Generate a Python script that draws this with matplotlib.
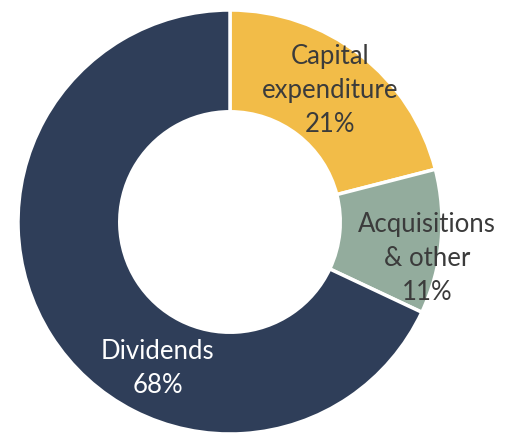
import matplotlib.pyplot as plt

labels = ['Capital\nexpenditure\n21%', 'Acquisitions\n& other\n11%', 'Dividends\n68%']
shares = [21, 11, 68]
colours = ['#F2BC48', '#93AC9D', '#2F3E59']
text_colours = ['#3B3B3B', '#3B3B3B', 'white']
# label centres in data units (pie radius = 1)
label_xy = [(0.47, 0.62), (0.93, -0.17), (-0.34, -0.69)]

plt.rcParams['font.family'] = ['Lato', 'DejaVu Sans']

fig = plt.figure(figsize=(5.12, 4.34), dpi=100)
ax = fig.add_axes([0, 0, 1, 1])
ax.pie(shares, colors=colours, startangle=90, counterclock=False,
       radius=1.0, wedgeprops=dict(width=0.48, edgecolor='white', linewidth=2.5))

for lab, (x, y), c in zip(labels, label_xy, text_colours):
    ax.text(x, y, lab, ha='center', va='center', fontsize=18.5, color=c,
            linespacing=1.45)

ax.set_xlim(-230/212, 282/212)
ax.set_ylim(-212/212, 222/212)
ax.set_aspect('equal')
ax.axis('off')
fig.savefig('out.png', dpi=100)
